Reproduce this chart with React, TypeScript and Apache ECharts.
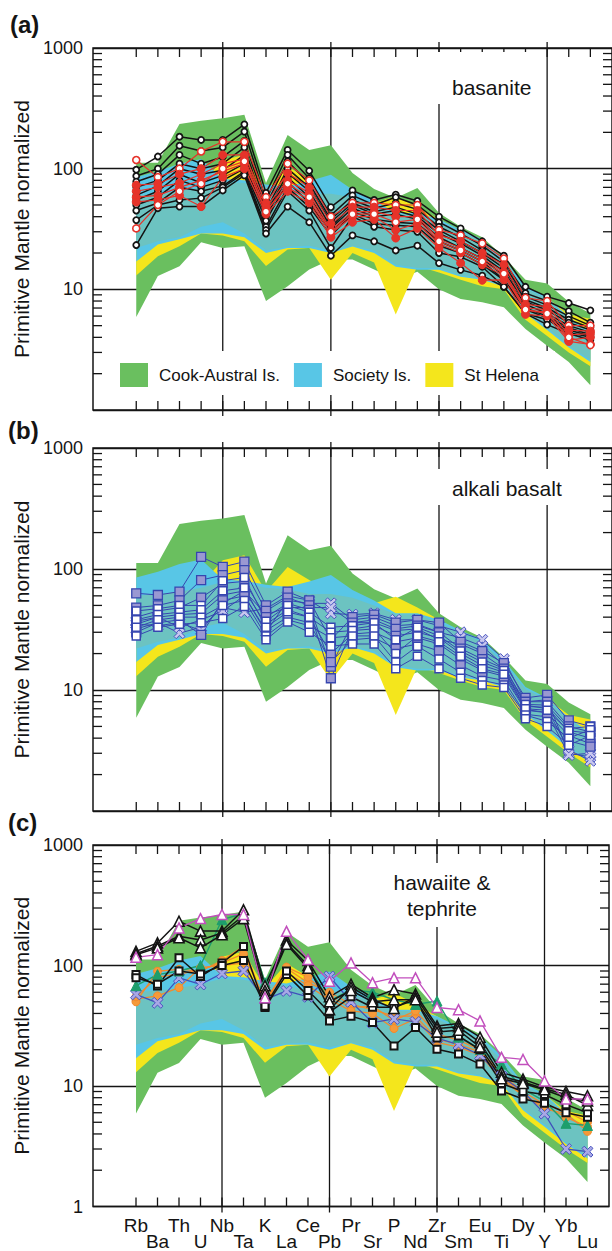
import React, { useEffect, useRef } from "react";
import * as echarts from "echarts";

const ELEMENTS = ["Rb","Ba","Th","U","Nb","Ta","K","La","Ce","Pb","Pr","Sr","P","Nd","Zr","Sm","Eu","Ti","Dy","Y","Yb","Lu"];
const GRID_ELEMENTS = ["Nb", "Pb", "Zr", "Y"];
const Y_TICK_LABELS = [1, 10, 100, 1000];
const MINOR_TICKS = [2,3,4,5,6,7,8,9,20,30,40,50,60,70,80,90,200,300,400,500,600,700,800,900];

// Reference fields (same in all panels)
const COOK_UPPER = [112,112,235,250,262,280,76,190,143,156,92,68,57,69,43,33,27,18.6,12,11.2,7.9,6.3];
const COOK_LOWER = [5.9,12.9,15.5,24.5,22,22.8,8,10.6,14.6,17.7,17.7,14.6,12,14,10,8.3,7.8,7.1,4.7,3.4,2.5,1.6];
const HELENA_UPPER = [40,50,60,75,118,130,65,104,81,65,58,52,59,48,38,30,24,17,10,8.5,6.2,5.7];
const HELENA_LOWER = [13,18.8,22.8,29,28,25,15.6,21.4,22,12,20,16.7,6.2,15.6,13.8,12,10.6,10,5.6,4.1,3,2.3];
const SOCIETY_UPPER = [85,95,110,120,82,80,74,71,79,89,67,55,43,43,38,31,26,17.7,10.6,8.6,5.9,4.4];
const SOCIETY_LOWER = [17,23.5,26,29,29,27,20,22,22,20,22.6,20,15.4,14.5,14.5,12.7,12,10.5,6.3,4.6,3.3,2.5];
const SOCIETY_CORE_UPPER = [60,62,65,70,78,76,70,68,62,62,58,50,42,42,36,30,25,16.5,10.2,8.3,5.7,4.3];
const SOCIETY_CORE_LOWER = [22,25,27,33,36,29,21,22.5,23,21,23,21,16,15,15,13,12.3,10.8,6.5,4.8,3.4,2.6];

// (a) basanite
const BAS_BLACK_1 = [98,126,184,173,173,233,63,143,96,48,66,55,61,54,40,32,25,19,10.5,8.7,7.7,6.7];
const BAS_BLACK_2 = [87,100,155,140,150,203,55,130,83,41,60,50,58,50,36,29,23,17,9.3,8,6.6,5.3];
const BAS_BLACK_3 = [78,90,130,110,125,170,50,115,75,38,55,47,52,46,33,27,21,16,8.7,7.4,6,5];
const BAS_BLACK_4 = [70,80,110,100,110,150,45,100,70,36,52,44,48,42,31,25,20,15,8.2,7,5.6,4.8];
const BAS_BLACK_5 = [60,72,100,90,97,130,42,92,65,33,50,42,45,40,29,24,19,14,7.9,6.7,5.3,4.6];
const BAS_BLACK_6 = [55,65,90,76,88,110,40,85,58,32,47,40,42,38,27,22,18,13,7.5,6.3,5,4.4];
const BAS_BLACK_7 = [50,58,80,70,80,100,37,78,52,30,44,38,36,35,25,21,17,12,7,6,4.8,4.2];
const BAS_BLACK_8 = [45,52,70,65,72,95,33,70,48,28,42,35,34,33,23,20,16,11.9,6.8,5.8,4.6,4.1];
const BAS_BLACK_9 = [37.5,50,55,57,70,92,31,65,45,22,40,33,31,30,20,18.6,15.4,10.5,6.3,5.6,4.4,4];
const BAS_BLACK_10 = [23.3,47,48.5,48.5,66,88,29,48.5,36,19,28,25,21,23,16.5,14.5,13,10.5,6.3,5.1,4.3,3.8];
const BAS_RED_OPEN_1 = [118,85,100,139,167,167,58,110,80,40,52,52,50,50,31,28,24,18,8.5,8,5,5];
const BAS_RED_2 = [73,75,90,100,130,130,52,92,70,35,48,48,45,45,28,25,20,16,7.5,7.2,4.6,4.5];
const BAS_RED_3 = [65,70,76,90,110,120,48,80,63,31,44,44,40,40,26,22,18,14,7,6.8,4.2,4.3];
const BAS_RED_4 = [58,60,70,80,95,110,45,70,55,29,40,40,31,35,24,20,16,13,6.7,6.5,3.8,4];
const BAS_RED_5 = [53,55,60,48.5,85,100,42,65,52,27,36,38,26.6,32,22,16.5,11.9,12,6.2,6,3.7,3.5];
const BAS_RED_OPEN_6 = [32,50,65,75,100,115,44,75,58,30,42,42,36,38,25,21,17,13.5,6.8,6.3,4,3.45];

// (b) alkali basalt
const ALK_FILLED_1 = [63,61,65,126,104,115,50,65,55,26,40,42,36,38,36,25,21,16.7,8.6,9.1,5.6,5];
const ALK_FILLED_2 = [48,50,55,81,89,98,45,58,50,15.6,36,38,32,34,30,22,18,15,8,8,5,4.5];
const ALK_FILLED_3 = [40,45,48,58,76,79,40,52,46,12.5,32,34,28,30,27,20,16,14,7.3,7.2,4.5,4];
const ALK_FILLED_4 = [35,40,42,43,61,66,35,46,40,20,29,30,25,27,24,18,14.5,13,6.8,6.5,4.2,3.6];
const ALK_FILLED_5 = [30,36,38,28.5,55,60,31,40,36,17,26,27,22,24,21,16,13,12,6.3,6,3.8,3.4];
const ALK_OPEN_6 = [45,47,50,50,80,85,37,50,44,33,34,36,26,33,28,21,17,14.5,7.6,7.5,4.8,5];
const ALK_OPEN_7 = [38,42,44,46,66,70,33,44,40,30,31,32,20,28,25,19,15,13.5,7,6.8,4.6,4.4];
const ALK_OPEN_8 = [33,38,40,40,50,55,28,38,34,27,28,28,17,23,18,14,12,11,6.2,5.5,4,4.7];
const ALK_OPEN_9 = [28,33,35,36,39,49,26,36.5,30,23,24,24,15,19,15,12.5,11,10.5,5.8,5,3.5,4.2];
const ALK_CROSS_10 = [32,36,29.5,33,48,44,47,60,55,43,42,43,38,38,34,30,26,18,8,8.3,3,2.8];
const ALK_CROSS_11 = [37,40,33,38,45,60,30,55,52,52,38,40,34,35,30,27,23,16,7.5,7,3.2,2.6];
const ALK_CROSS_12 = [35,34,36,31,52,66,42,48,48,48,36,36,31,32,26,24,20,15,6.9,6.5,2.9,3];

// (c) hawaiite & tephrite
const HAW_MAGENTA = [117,123,205,245,265,265,54,192,112,74,105,72,79,79,44.8,43,34.7,17.3,16.6,11,7.8,7.8];
const HAW_TRI_1 = [131,154,233,193,193,290,68,163,110,55,70,54,63,58,31.5,33,25.4,13,11.4,9.8,9,8.3];
const HAW_TRI_2 = [125,145,175,163,186,260,62,154,100,43,66,52,44,55,30,31,23,12,10.8,9.5,8.5,6.9];
const HAW_TRI_3 = [123,140,170,140,180,245,58,150,95,50,62,50,52,52,28,29,21,11.5,10.5,9.3,8,7.5];
const HAW_SQ_1 = [84,67.5,116,81,105,144,44.8,84,56,34.7,38,33.6,21.5,30.6,20.2,18.4,15.2,9.1,7.8,7.2,6,5.5];
const HAW_SQ_2 = [79,70,90,85,100,110,46,90,62,41,55,45,45,52,25,26,20,10.5,9,8.5,7,6];
const HAW_GREEN = [68,84,90,100,240,270,72,149,100,50.7,63,60,52,47.5,50.7,25.4,20.2,15.2,9.4,7.5,4.9,4.7];
const HAW_ORANGE_1 = [52.5,56,65.5,96,100,105,50,95,72,60,47.5,43,38,38,24.5,22.2,19.1,12,8.5,6.45,5.9,4.2];
const HAW_ORANGE_2 = [50,89.6,93,90,110,144,48,97,80,55,45,46,35,42,27,24,20,12.5,9,7,6.2,5];
const HAW_ORANGE_3 = [55,80,85,92,105,125,52,88,68,52,42,40,30,36,23,21,18,11.5,8.3,6.8,5.5,4.6];
const HAW_BLUE_CROSS = [57.6,49,79,69.6,86,90,52,61.5,55,81,50,33.6,36,34,25,22,18,12,9,5.9,3,2.85];

const FONT = "'Liberation Sans', Arial, Helvetica, sans-serif";
const INK = "#141414";
const X_MIN = -2;
const X_MAX = 22;
const Y_MIN = 1;
const Y_MAX = 1000;
const CROSS = "path://M2,0L5,3L8,0L10,2L7,5L10,8L8,10L5,7L2,10L0,8L3,5L0,2Z";

const GRID_TOPS = [48, 448, 845];
const GRID_HEIGHTS = [362, 363, 363];

function pairs(arr: number[]) {
  return arr.map((v, i) => [i, v]);
}

function frameRenderer(params: any, api: any) {
  const children: any[] = [];
  const L = 9;
  const st = { stroke: INK, lineWidth: 1.3 };
  for (let i = 0; i < ELEMENTS.length; i++) {
    const t = api.coord([i, Y_MAX]);
    const b = api.coord([i, Y_MIN]);
    children.push({ type: "line", shape: { x1: t[0], y1: t[1], x2: t[0], y2: t[1] + L }, style: st });
    children.push({ type: "line", shape: { x1: b[0], y1: b[1], x2: b[0], y2: b[1] - L }, style: st });
  }
  for (const v of MINOR_TICKS) {
    const l = api.coord([X_MIN, v]);
    const r = api.coord([X_MAX, v]);
    children.push({ type: "line", shape: { x1: l[0], y1: l[1], x2: l[0] + L, y2: l[1] }, style: st });
    children.push({ type: "line", shape: { x1: r[0], y1: r[1], x2: r[0] - L, y2: r[1] }, style: st });
  }
  for (const name of GRID_ELEMENTS) {
    const i = ELEMENTS.indexOf(name);
    const t = api.coord([i, Y_MAX]);
    const b = api.coord([i, Y_MIN]);
    children.push({ type: "line", shape: { x1: t[0], y1: t[1] - 6, x2: t[0], y2: b[1] + 6 }, style: st });
  }
  return { type: "group", children };
}

function fieldSeries(name: string | undefined, upper: number[], lower: number[], color: string, g: number) {
  return {
    type: "custom",
    name,
    xAxisIndex: g,
    yAxisIndex: g,
    z: 2,
    silent: true,
    itemStyle: { color },
    data: [[0, upper[0]]],
    renderItem: (params: any, api: any) => {
      const pts: number[][] = [];
      upper.forEach((v, i) => pts.push(api.coord([i, v])));
      for (let i = lower.length - 1; i >= 0; i--) pts.push(api.coord([i, lower[i]]));
      return { type: "polygon", shape: { points: pts }, style: { fill: color } };
    },
  };
}

function lineSeries(arr: number[], g: number, opts: any) {
  return {
    type: "line",
    xAxisIndex: g,
    yAxisIndex: g,
    z: 3,
    data: pairs(arr),
    symbol: opts.symbol,
    symbolSize: opts.size,
    lineStyle: { color: opts.line, width: opts.lineWidth ?? 1.4 },
    itemStyle: { color: opts.fill, borderColor: opts.border, borderWidth: opts.borderWidth ?? 1.6 },
  };
}

function buildOption() {
  const grids = GRID_TOPS.map((top, g) => ({
    left: 93,
    top,
    width: 522,
    height: GRID_HEIGHTS[g],
    show: true,
    borderColor: INK,
    borderWidth: 1.5,
    backgroundColor: "transparent",
  }));

  const xAxes = GRID_TOPS.map((_, g) => ({
    type: "value",
    gridIndex: g,
    min: X_MIN,
    max: X_MAX,
    interval: 1,
    axisLine: { show: false },
    axisTick: { show: false },
    splitLine: { show: false },
    axisLabel: {
      show: g === 2,
      fontSize: 19,
      lineHeight: 16,
      margin: 11,
      color: INK,
      fontFamily: FONT,
      showMinLabel: true,
      showMaxLabel: true,
      formatter: (v: number) => {
        const i = Math.round(v);
        if (i < 0 || i >= ELEMENTS.length) return "";
        return i % 2 === 0 ? ELEMENTS[i] : "\n" + ELEMENTS[i];
      },
    },
  }));

  const yAxes = GRID_TOPS.map((_, g) => ({
    type: "log",
    logBase: 10,
    gridIndex: g,
    min: Y_MIN,
    max: Y_MAX,
    axisLine: { show: false },
    axisTick: { show: false },
    splitLine: { show: true, lineStyle: { color: INK, width: 1.3 } },
    axisLabel: {
      fontSize: 18,
      margin: 10,
      color: INK,
      fontFamily: FONT,
      formatter: (v: number) => {
        const r = Math.round(v);
        if (!Y_TICK_LABELS.includes(r)) return "";
        if (g < 2 && r === 1) return "";
        return String(r);
      },
    },
    name: "Primitive Mantle normalized",
    nameLocation: "middle",
    nameGap: 57,
    nameTextStyle: { fontSize: 21, color: INK, fontFamily: FONT },
  }));

  const series: any[] = [];
  for (let g = 0; g < 3; g++) {
    series.push({
      type: "custom",
      xAxisIndex: g,
      yAxisIndex: g,
      z: 1,
      silent: true,
      clip: false,
      data: [[0, 1]],
      renderItem: frameRenderer,
    });
    series.push(fieldSeries("Cook-Austral Is.", COOK_UPPER, COOK_LOWER, "#6abf5f", g));
    series.push(fieldSeries("St Helena", HELENA_UPPER, HELENA_LOWER, "#f4e61c", g));
    series.push(fieldSeries("Society Is.", SOCIETY_UPPER, SOCIETY_LOWER, "#58c6e6", g));
    series.push(fieldSeries(undefined, SOCIETY_CORE_UPPER, SOCIETY_CORE_LOWER, "#6cc3c1", g));
  }

  // (a)
  const black = { symbol: "circle", size: 6, line: INK, fill: "#fff", border: INK, borderWidth: 1.8, lineWidth: 1.5 };
  [BAS_BLACK_1, BAS_BLACK_2, BAS_BLACK_3, BAS_BLACK_4, BAS_BLACK_5, BAS_BLACK_6, BAS_BLACK_7, BAS_BLACK_8, BAS_BLACK_9, BAS_BLACK_10]
    .forEach((a) => series.push(lineSeries(a, 0, black)));
  const red = { symbol: "circle", size: 8, line: "#e6332a", fill: "#e6332a", border: "#e6332a", borderWidth: 1, lineWidth: 1.2 };
  const redOpen = { symbol: "circle", size: 7, line: "#e6332a", fill: "#fff", border: "#e6332a", borderWidth: 1.6, lineWidth: 1.2 };
  series.push(lineSeries(BAS_RED_OPEN_1, 0, redOpen));
  [BAS_RED_2, BAS_RED_3, BAS_RED_4, BAS_RED_5].forEach((a) => series.push(lineSeries(a, 0, red)));
  series.push(lineSeries(BAS_RED_OPEN_6, 0, redOpen));

  // (b)
  const blueLine = "#3646b0";
  const filledSq = { symbol: "rect", size: 9, line: blueLine, fill: "#9a98d2", border: blueLine, borderWidth: 1.3, lineWidth: 1 };
  const openSq = { symbol: "rect", size: 8, line: blueLine, fill: "#fff", border: blueLine, borderWidth: 1.5, lineWidth: 1 };
  const crossB = { symbol: CROSS, size: 11, line: blueLine, fill: "#c9c8ef", border: "#4a55c0", borderWidth: 1, lineWidth: 1 };
  [ALK_CROSS_10, ALK_CROSS_11, ALK_CROSS_12].forEach((a) => series.push(lineSeries(a, 1, crossB)));
  [ALK_FILLED_1, ALK_FILLED_2, ALK_FILLED_3, ALK_FILLED_4, ALK_FILLED_5].forEach((a) => series.push(lineSeries(a, 1, filledSq)));
  [ALK_OPEN_6, ALK_OPEN_7, ALK_OPEN_8, ALK_OPEN_9].forEach((a) => series.push(lineSeries(a, 1, openSq)));

  // (c)
  const orange = { symbol: "circle", size: 8, line: "#f28a2c", fill: "#f59a3a", border: "#f28a2c", borderWidth: 1, lineWidth: 1.3 };
  [HAW_ORANGE_1, HAW_ORANGE_2, HAW_ORANGE_3].forEach((a) => series.push(lineSeries(a, 2, orange)));
  series.push(lineSeries(HAW_BLUE_CROSS, 2, { symbol: CROSS, size: 11, line: "#4050bb", fill: "#a9a8e6", border: "#4a55c0", borderWidth: 1, lineWidth: 1.3 }));
  series.push(lineSeries(HAW_GREEN, 2, { symbol: "triangle", size: 10, line: "#1d9e6c", fill: "#1d9e6c", border: "#1d9e6c", borderWidth: 1, lineWidth: 1.4 }));
  const sq = { symbol: "rect", size: 7, line: INK, fill: "#fff", border: INK, borderWidth: 2, lineWidth: 1.5 };
  [HAW_SQ_1, HAW_SQ_2].forEach((a) => series.push(lineSeries(a, 2, sq)));
  const tri = { symbol: "triangle", size: 10, line: INK, fill: "#fff", border: INK, borderWidth: 1.6, lineWidth: 1.5 };
  [HAW_TRI_1, HAW_TRI_2, HAW_TRI_3].forEach((a) => series.push(lineSeries(a, 2, tri)));
  series.push(lineSeries(HAW_MAGENTA, 2, { symbol: "triangle", size: 10, line: "#c24fbd", fill: "#fff", border: "#c24fbd", borderWidth: 1.5, lineWidth: 1.3 }));

  const panelLabel = (text: string, left: number, top: number) => ({
    text,
    left,
    top,
    padding: 0,
    textStyle: { fontSize: 24, fontWeight: "bold", color: INK, fontFamily: FONT },
  });
  const boxLabel = (text: string, left: number, top: number, padding: number[], extra: any = {}) => ({
    text,
    left,
    top,
    padding,
    backgroundColor: "#fff",
    ...extra,
    textStyle: { fontSize: 21, fontWeight: "normal", color: INK, fontFamily: FONT, lineHeight: 26 },
  });

  return {
    animation: false,
    backgroundColor: "#fff",
    textStyle: { fontFamily: FONT },
    title: [
      panelLabel("(a)", 10, 12),
      panelLabel("(b)", 8, 418),
      panelLabel("(c)", 8, 810),
      boxLabel("basanite", 436, 52, [22, 12, 4, 16]),
      boxLabel("alkali basalt", 436, 469, [6, 6, 4, 16]),
      boxLabel("hawaiite &\ntephrite", 430, 863, [6, 14, 6, 12], { textAlign: "center" }),
    ],
    legend: {
      data: ["Cook-Austral Is.", "Society Is.", "St Helena"],
      left: 110,
      top: 351,
      orient: "horizontal",
      icon: "rect",
      itemWidth: 28,
      itemHeight: 24,
      itemGap: 14,
      padding: [12, 16, 8, 10],
      backgroundColor: "#fff",
      selectedMode: false,
      textStyle: { fontSize: 17, color: INK, fontFamily: FONT, padding: [0, 0, 0, 6] },
    },
    grid: grids,
    xAxis: xAxes,
    yAxis: yAxes,
    series,
  };
}

export default function App() {
  const ref = useRef<HTMLDivElement>(null);
  useEffect(() => {
    if (!ref.current) return;
    const chart = echarts.init(ref.current, null, { renderer: "svg" });
    chart.setOption(buildOption() as any);
    return () => chart.dispose();
  }, []);
  return (
    <div
      ref={ref}
      style={{ position: "absolute", left: 0, top: 0, width: 612, height: 1251, background: "#fff" }}
    />
  );
}
